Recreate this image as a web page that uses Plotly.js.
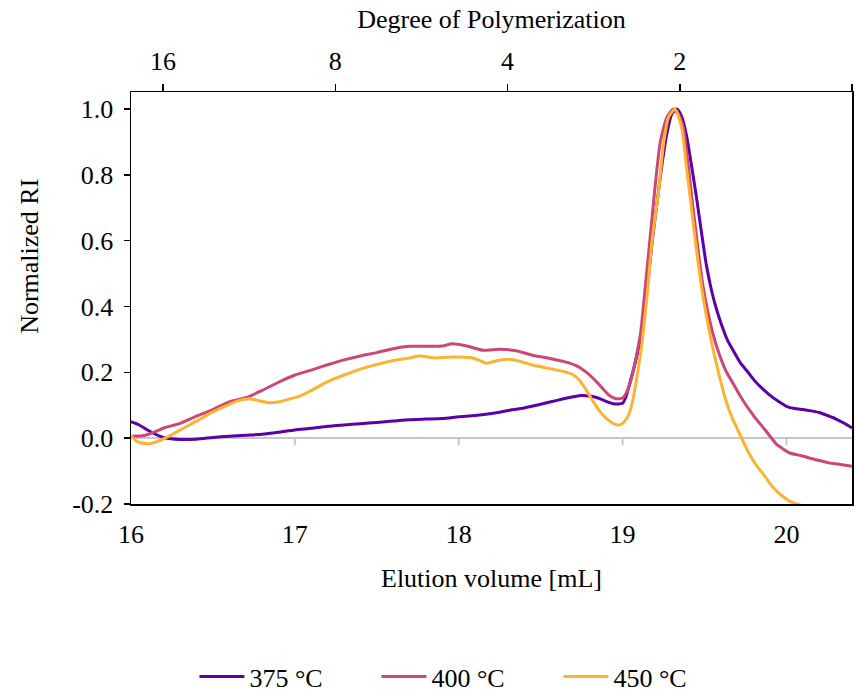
<!DOCTYPE html>
<html>
<head>
<meta charset="utf-8">
<script src="https://cdn.plot.ly/plotly-3.0.1.min.js"></script>
<style>html,body{margin:0;padding:0;background:#fff;}#chart{width:856px;height:694px;}</style>
</head>
<body>
<div id="chart"></div>
<script>
// ---- Data ----
const seriesNames = ['375 °C', '400 °C', '450 °C'];
const seriesColors = ['#5c01a6', '#cc4778', '#fdb32f'];

const x375 = [16.00,16.05,16.10,16.15,16.20,16.30,16.40,16.50,16.60,16.70,16.80,16.90,17.00,17.10,17.20,17.30,17.40,17.50,17.60,17.70,17.80,17.90,18.00,18.10,18.20,18.30,18.40,18.50,18.60,18.70,18.75,18.80,18.85,18.90,18.95,19.00,19.02,19.04,19.07,19.10,19.12,19.14,19.16,19.18,19.21,19.24,19.27,19.30,19.33,19.36,19.39,19.42,19.45,19.48,19.51,19.54,19.57,19.60,19.64,19.68,19.72,19.76,19.80,19.85,19.90,19.95,20.00,20.05,20.10,20.15,20.20,20.25,20.30,20.35,20.40];
const y375 = [0.050,0.040,0.025,0.012,0.002,-0.004,-0.003,0.002,0.006,0.009,0.012,0.018,0.025,0.030,0.036,0.040,0.044,0.048,0.052,0.056,0.058,0.060,0.065,0.069,0.075,0.084,0.092,0.103,0.115,0.126,0.130,0.128,0.122,0.112,0.104,0.106,0.125,0.160,0.215,0.280,0.340,0.410,0.500,0.595,0.715,0.830,0.925,0.985,1.000,0.978,0.920,0.830,0.735,0.630,0.530,0.455,0.397,0.350,0.298,0.262,0.228,0.204,0.178,0.152,0.130,0.112,0.097,0.090,0.087,0.083,0.078,0.069,0.059,0.046,0.031];

const x400 = [16.00,16.08,16.16,16.20,16.30,16.40,16.50,16.60,16.70,16.80,16.90,17.00,17.10,17.20,17.30,17.40,17.50,17.60,17.70,17.80,17.90,17.96,18.05,18.15,18.25,18.35,18.45,18.55,18.65,18.72,18.78,18.84,18.88,18.92,18.96,19.00,19.03,19.06,19.09,19.11,19.14,19.17,19.20,19.23,19.27,19.31,19.34,19.37,19.40,19.43,19.46,19.49,19.52,19.55,19.59,19.63,19.67,19.71,19.75,19.80,19.86,19.90,19.94,19.98,20.02,20.08,20.14,20.20,20.26,20.33,20.40];
const y400 = [0.006,0.008,0.022,0.031,0.045,0.067,0.087,0.110,0.123,0.145,0.170,0.192,0.207,0.223,0.238,0.250,0.260,0.272,0.279,0.279,0.280,0.287,0.280,0.267,0.270,0.266,0.252,0.243,0.232,0.220,0.200,0.172,0.150,0.130,0.120,0.122,0.145,0.195,0.265,0.320,0.468,0.620,0.772,0.900,0.975,1.000,0.985,0.945,0.830,0.700,0.575,0.465,0.385,0.320,0.255,0.205,0.170,0.135,0.103,0.068,0.031,0.006,-0.019,-0.033,-0.045,-0.052,-0.060,-0.068,-0.075,-0.080,-0.085];

const x450 = [16.00,16.03,16.06,16.12,16.17,16.22,16.30,16.40,16.50,16.60,16.66,16.72,16.78,16.84,16.90,16.96,17.03,17.10,17.20,17.30,17.40,17.50,17.60,17.70,17.76,17.86,17.97,18.07,18.12,18.17,18.24,18.31,18.37,18.47,18.58,18.66,18.70,18.74,18.78,18.82,18.86,18.90,18.94,18.98,19.01,19.04,19.06,19.08,19.10,19.12,19.15,19.18,19.22,19.25,19.28,19.32,19.36,19.39,19.42,19.45,19.48,19.51,19.55,19.59,19.63,19.67,19.71,19.77,19.82,19.86,19.90,19.94,19.98,20.02,20.06,20.11];
const y450 = [0.008,-0.008,-0.014,-0.016,-0.008,0.003,0.025,0.052,0.080,0.103,0.115,0.120,0.114,0.108,0.110,0.118,0.128,0.145,0.172,0.192,0.210,0.224,0.236,0.244,0.250,0.244,0.247,0.245,0.238,0.228,0.236,0.240,0.234,0.220,0.209,0.200,0.192,0.174,0.145,0.112,0.082,0.060,0.046,0.040,0.050,0.075,0.110,0.163,0.225,0.295,0.437,0.600,0.752,0.894,0.975,1.000,0.945,0.823,0.700,0.575,0.465,0.375,0.275,0.190,0.115,0.060,0.018,-0.045,-0.085,-0.110,-0.138,-0.161,-0.178,-0.192,-0.200,-0.207];

// Axis ticks
const xTickVals = [16, 17, 18, 19, 20];
const xTickText = ['16', '17', '18', '19', '20'];
const yTickVals = [-0.2, 0, 0.2, 0.4, 0.6, 0.8, 1.0];
const yTickText = ['-0.2', '0.0', '0.2', '0.4', '0.6', '0.8', '1.0'];
const dpTickVals = [16, 8, 4, 2, 1];
const dpTickText = ['16', '8', '4', '2', '1'];
const zeroTickVals = [17, 18, 19, 20];

const xs = [x375, x400, x450];
const ys = [y375, y400, y450];

const traces = seriesNames.map((n, i) => ({
  type: 'scatter', mode: 'lines', name: n,
  x: xs[i], y: ys[i],
  line: {color: seriesColors[i], width: 3, shape: 'spline', smoothing: 0.6}
}));
// invisible helper trace so the top (degree of polymerization) axis is drawn
traces.push({type: 'scatter', mode: 'markers', x: dpTickVals, y: dpTickVals.map(() => null),
  xaxis: 'x2', yaxis: 'y', showlegend: false, hoverinfo: 'skip', marker: {opacity: 0}});

const shapes = zeroTickVals.map(v => ({
  type: 'line', xref: 'x', yref: 'y', ysizemode: 'pixel', yanchor: 0,
  x0: v, x1: v, y0: 0, y1: -7,
  line: {color: '#c8c8c8', width: 2}
}));

const font = {family: '"Liberation Serif", "Times New Roman", serif', size: 26, color: '#000'};

const layout = {
  width: 856, height: 694,
  margin: {l: 131, r: 4, t: 92, b: 190, pad: 0},
  paper_bgcolor: '#fff', plot_bgcolor: '#fff',
  font: font,
  showlegend: true,
  xaxis: {
    range: [16, 20.4], tickvals: xTickVals, ticktext: xTickText,
    ticks: '', showline: true, linecolor: '#000', linewidth: 1.5, mirror: true,
    showgrid: false, zeroline: false, ticklabelstandoff: 6,
    title: {text: 'Elution volume [mL]', font: font, standoff: 21}
  },
  xaxis2: {
    overlaying: 'x', side: 'top', anchor: 'y', type: 'log', range: [Math.log10(Math.pow(2, 4.186)), 0],
    tickvals: dpTickVals, ticktext: dpTickText, ticks: 'outside', ticklen: 7, tickwidth: 1.5, tickcolor: '#000',
    showline: false, showgrid: false, zeroline: false, ticklabelstandoff: 4,
    title: {text: 'Degree of Polymerization', font: font, standoff: 10}
  },
  yaxis: {
    range: [-0.2, 1.052], tickvals: yTickVals, ticktext: yTickText,
    ticks: 'outside', ticklen: 6, tickwidth: 1.5, tickcolor: '#000',
    showline: true, linecolor: '#000', linewidth: 1.5, mirror: true,
    showgrid: false, zeroline: true, zerolinecolor: '#c8c8c8', zerolinewidth: 2,
    ticklabelstandoff: 5
  },
  annotations: [{
    text: 'Normalized RI', xref: 'paper', yref: 'paper', x: -0.140, y: 0.60,
    xanchor: 'center', yanchor: 'middle', textangle: -90, showarrow: false, font: font
  }],
  legend: {
    orientation: 'h', xref: 'paper', x: 0.088, xanchor: 'left',
    yref: 'container', y: 0.025, yanchor: 'middle',
    font: font, itemwidth: 45, entrywidth: 122, entrywidthmode: 'pixels',
    tracegroupgap: 0, bgcolor: 'rgba(0,0,0,0)'
  },
  shapes: shapes
};

Plotly.newPlot('chart', traces, layout, {staticPlot: true, displayModeBar: false});
</script>
</body>
</html>
